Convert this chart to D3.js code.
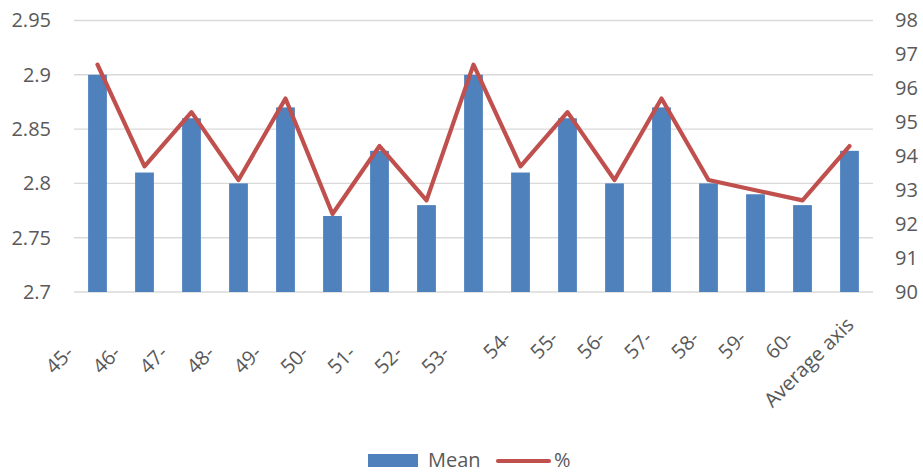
<!DOCTYPE html>
<html>
<head>
<meta charset="utf-8">
<script src="https://cdn.jsdelivr.net/npm/d3@7"></script>
<style>
  html, body { margin: 0; padding: 0; background: #fff; }
  svg { display: block; font-family: "Open Sans", sans-serif; }
  .axis text { fill: #595959; font-size: 20px; font-family: "Open Sans", sans-serif; }
</style>
</head>
<body>
<svg id="chart" width="923" height="472"></svg>
<script>
// Categories along the bottom axis
const categories = ["45-", "46-", "47-", "48-", "49-", "50-", "51-", "52-", "53-",
                    "54-", "55-", "56-", "57-", "58-", "59-", "60-", "Average axis"];
// Mean score per category (left axis)
const meanValues = [2.90, 2.81, 2.86, 2.80, 2.87, 2.77, 2.83, 2.78, 2.90,
                    2.81, 2.86, 2.80, 2.87, 2.80, 2.79, 2.78, 2.83];
// Percentage per category (right axis)
const pctValues = [96.7, 93.7, 95.3, 93.3, 95.7, 92.3, 94.3, 92.7, 96.7,
                   93.7, 95.3, 93.3, 95.7, 93.3, 93.0, 92.7, 94.3];
// Axis ticks
const leftTicks = [2.7, 2.75, 2.8, 2.85, 2.9, 2.95];
const leftTickLabels = ["2.7", "2.75", "2.8", "2.85", "2.9", "2.95"];
const rightTicks = [90, 91, 92, 93, 94, 95, 96, 97, 98];
const seriesNames = ["Mean", "%"];

const svg = d3.select("#chart");
const plot = { left: 74, right: 873, top: 20.5, bottom: 292 };

const x = d3.scaleBand()
  .domain(categories)
  .range([plot.left, plot.right])
  .paddingInner(0.6)
  .paddingOuter(0.3);
const yL = d3.scaleLinear().domain([2.7, 2.95]).range([plot.bottom, plot.top]);
const yR = d3.scaleLinear().domain([90, 98]).range([plot.bottom, plot.top]);

const barColor = "#4F81BD";
const lineColor = "#C0504D";
const gridColor = "#D9D9D9";

// Horizontal gridlines at the left-axis ticks
svg.append("g")
  .selectAll("line")
  .data(leftTicks)
  .join("line")
  .attr("x1", plot.left).attr("x2", plot.right)
  .attr("y1", d => yL(d)).attr("y2", d => yL(d))
  .attr("stroke", gridColor)
  .attr("stroke-width", 1.4);

// Bars (Mean)
svg.append("g")
  .selectAll("rect")
  .data(meanValues)
  .join("rect")
  .attr("x", (d, i) => x(categories[i]))
  .attr("width", x.bandwidth())
  .attr("y", d => yL(d))
  .attr("height", d => yL(2.7) - yL(d))
  .attr("fill", barColor);

// Line (%)
const center = c => x(c) + x.bandwidth() / 2;
const line = d3.line()
  .x((d, i) => center(categories[i]))
  .y(d => yR(d));
svg.append("path")
  .datum(pctValues)
  .attr("d", line)
  .attr("fill", "none")
  .attr("stroke", lineColor)
  .attr("stroke-width", 4.2)
  .attr("stroke-linejoin", "round")
  .attr("stroke-linecap", "round");

// Strip the default axis font settings so the stylesheet applies
const plain = g => g.attr("font-family", null).attr("font-size", null)
  .call(s => s.select(".domain").remove());

// Left axis
svg.append("g")
  .attr("class", "axis")
  .attr("transform", `translate(${plot.left},0)`)
  .call(d3.axisLeft(yL).tickValues(leftTicks)
    .tickFormat((d, i) => leftTickLabels[i])
    .tickSize(0).tickPadding(23))
  .call(plain);

// Right axis
svg.append("g")
  .attr("class", "axis")
  .attr("transform", `translate(${plot.right},0)`)
  .call(d3.axisRight(yR).tickValues(rightTicks)
    .tickFormat(d3.format("d"))
    .tickSize(0).tickPadding(22))
  .call(plain);

// Bottom axis with slanted labels
const labelShift = i => (i < 9 ? -40 : i < 16 ? -19 : 0);
const axB = svg.append("g")
  .attr("class", "axis")
  .attr("transform", `translate(0,${plot.bottom})`)
  .call(d3.axisBottom(x).tickSize(0).tickPadding(0))
  .call(plain);
axB.selectAll("text")
  .attr("x", 0).attr("y", 0).attr("dy", 0)
  .attr("dx", (d, i) => labelShift(i))
  .attr("text-anchor", "end")
  .attr("transform", "translate(5.5,34) rotate(-45)");

// Legend
const legend = svg.append("g").attr("fill", "#595959").style("font-size", "20px");
legend.append("rect")
  .attr("x", 368).attr("y", 454).attr("width", 50).attr("height", 13)
  .attr("fill", barColor);
legend.append("text").attr("x", 428).attr("y", 467).text(seriesNames[0]);
legend.append("line")
  .attr("x1", 498).attr("x2", 549).attr("y1", 461).attr("y2", 461)
  .attr("stroke", lineColor).attr("stroke-width", 4.2).attr("stroke-linecap", "round");
legend.append("text").attr("x", 554).attr("y", 467).text(seriesNames[1]);
</script>
</body>
</html>
